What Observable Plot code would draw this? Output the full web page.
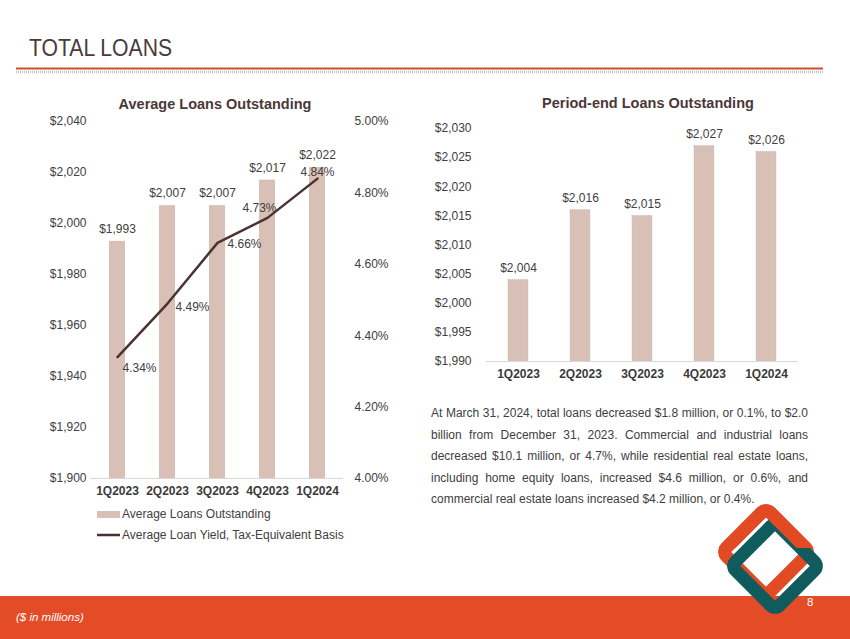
<!DOCTYPE html>
<html><head><meta charset="utf-8">
<script src="https://cdn.jsdelivr.net/npm/d3@7"></script>
<script src="https://cdn.jsdelivr.net/npm/@observablehq/plot@0.6"></script>
<style>
body{margin:0;background:#fff;}
#slide{position:relative;width:850px;height:639px;overflow:hidden;font-family:"Liberation Sans",Arial,sans-serif;color:#404040;background:#fff;}
.abs{position:absolute;}
.ctitle{font-weight:bold;font-size:14.5px;color:#4a3838;white-space:nowrap;line-height:18px;}
#para{left:431px;top:403px;width:377px;font-size:12px;line-height:21.5px;color:#404040;}
#para div{text-align:justify;text-align-last:justify;white-space:nowrap;}
#para div.last{text-align-last:left;}
.legend{font-size:12px;line-height:14px;color:#404040;white-space:nowrap;}
</style></head><body>
<div id="slide">
  <svg class="abs" style="left:0;top:0" width="850" height="639" id="deco">
    <rect x="0" y="596" width="850" height="43" fill="#E34C26"/>
    <line x1="16" y1="68.5" x2="823" y2="68.5" stroke="#C9522E" stroke-width="2"/>
    <line x1="16" y1="72" x2="823" y2="72" stroke="#c4c4c4" stroke-width="2.5" stroke-dasharray="1 1"/>
    <defs><clipPath id="topclip"><rect x="700" y="490" width="150" height="58"/></clipPath></defs>
    <g transform="translate(766,552) rotate(45)"><rect x="-31" y="-31" width="62" height="62" rx="6" fill="none" stroke="#E24A23" stroke-width="13"/></g>
    <g transform="translate(775,566) rotate(45)"><rect x="-31" y="-31" width="62" height="62" rx="6" fill="none" stroke="#0F5B5E" stroke-width="13"/></g>
    <g clip-path="url(#topclip)"><g transform="translate(766,552) rotate(45)"><rect x="-31" y="-31" width="62" height="62" rx="6" fill="none" stroke="#E24A23" stroke-width="13"/></g></g>
  </svg>
  <div class="abs" style="left:29px;top:34px;font-size:23px;line-height:28px;color:#4a3a3a;transform:scaleX(0.92);transform-origin:0 0;white-space:nowrap;">TOTAL LOANS</div>
  <div class="abs ctitle" style="left:115px;top:95px;width:200px;text-align:center;">Average Loans Outstanding</div>
  <div class="abs ctitle" style="left:542px;top:94px;width:200px;text-align:center;">Period-end Loans Outstanding</div>
  <div id="left" class="abs" style="left:0;top:90px;"></div>
  <div id="leftLine" class="abs" style="left:0;top:90px;"></div>
  <div id="right" class="abs" style="left:420px;top:100px;"></div>
  <svg class="abs" style="left:90px;top:505px" width="40" height="40">
    <rect x="7" y="6" width="23" height="7" fill="#D9C0B7"/>
    <line x1="7" y1="30" x2="30" y2="30" stroke="#4B3232" stroke-width="2.5"/>
  </svg>
  <div class="abs legend" style="left:122px;top:507px;">Average Loans Outstanding</div>
  <div class="abs legend" style="left:122px;top:528px;">Average Loan Yield, Tax-Equivalent Basis</div>
  <div id="para" class="abs">
    <div>At March 31, 2024, total loans decreased $1.8 million, or 0.1%, to $2.0</div>
    <div>billion from December 31, 2023. Commercial and industrial loans</div>
    <div>decreased $10.1 million, or 4.7%, while residential real estate loans,</div>
    <div>including home equity loans, increased $4.6 million, or 0.6%, and</div>
    <div class="last">commercial real estate loans increased $4.2 million, or 0.4%.</div>
  </div>
  <div class="abs" style="left:16px;top:610px;font-size:11.5px;line-height:14px;font-style:italic;color:#fff;">($ in millions)</div>
  <div class="abs" style="left:807px;top:595px;font-size:11.5px;line-height:14px;color:#fff;">8</div>
</div>
<script>
const quarters = ["1Q2023", "2Q2023", "3Q2023", "4Q2023", "1Q2024"];
const avgLoans = [1993, 2007, 2007, 2017, 2022];
const avgYield = [4.34, 4.49, 4.66, 4.73, 4.84];
const periodEndLoans = [2004, 2016, 2015, 2027, 2026];
const avgLoanTicks = [1900, 1920, 1940, 1960, 1980, 2000, 2020, 2040];
const yieldTicks = [4.0, 4.2, 4.4, 4.6, 4.8, 5.0];
const periodTicks = [1990, 1995, 2000, 2005, 2010, 2015, 2020, 2025, 2030];

const barColor = "#D9C0B7";
const lineColor = "#4B3232";
const textColor = "#404040";
const money = d => "$" + d3.format(",")(d);

const avgData = quarters.map((q, i) => ({q, v: avgLoans[i]}));
const yieldData = quarters.map((q, i) => ({q, v: avgYield[i]}));
const periodData = quarters.map((q, i) => ({q, v: periodEndLoans[i]}));

const style = {fontFamily: "'Liberation Sans', Arial, sans-serif", fontSize: "12px", color: textColor, background: "transparent", overflow: "visible"};

// Left chart: bars + left axis
document.getElementById("left").append(Plot.plot({
  width: 400, height: 430, marginLeft: 90, marginRight: 57, marginTop: 31, marginBottom: 42,
  style,
  x: {type: "band", domain: quarters, paddingInner: 0.68, paddingOuter: 0.34, label: null},
  y: {domain: [1900, 2040], label: null},
  marks: [
    Plot.barY(avgData, {x: "q", y: "v", fill: barColor, clip: true}),
    Plot.ruleY([1900], {stroke: "#d9d9d9", strokeWidth: 1}),
    Plot.text(avgData, {x: "q", y: "v", text: d => money(d.v), dy: -12, fill: textColor, fontSize: 12}),
    Plot.axisX({tickSize: 0, tickPadding: 8, fontWeight: "bold", fontSize: 12, fill: "#3a3a3a", label: null}),
    Plot.axisY({ticks: avgLoanTicks, tickFormat: money, tickSize: 0, tickPadding: 4, fontSize: 12, label: null})
  ]
}));

// Left chart overlay: yield line + right axis
const yieldLabelPlacement = [
  {dx: 5, dy: 11, textAnchor: "start"},
  {dx: 8, dy: 4, textAnchor: "start"},
  {dx: 10, dy: 1, textAnchor: "start"},
  {dx: -8, dy: -10, textAnchor: "middle"},
  {dx: 0, dy: -6, textAnchor: "middle"}
];
document.getElementById("leftLine").append(Plot.plot({
  width: 400, height: 430, marginLeft: 90, marginRight: 57, marginTop: 31, marginBottom: 42,
  style,
  x: {type: "point", domain: quarters, padding: 0.5, axis: null},
  y: {domain: [4, 5], label: null},
  marks: [
    Plot.line(yieldData, {x: "q", y: "v", stroke: lineColor, strokeWidth: 2.5}),
    ...yieldLabelPlacement.map((p, i) => Plot.text(yieldData.filter((d, j) => j === i), {
      x: "q", y: "v", text: d => d.v.toFixed(2) + "%", dx: p.dx, dy: p.dy, textAnchor: p.textAnchor, fill: textColor, fontSize: 12
    })),
    Plot.axisY({anchor: "right", ticks: yieldTicks, tickFormat: d => d.toFixed(2) + "%", tickSize: 0, tickPadding: 11, fontSize: 12, label: null})
  ]
}));

// Right chart
document.getElementById("right").append(Plot.plot({
  width: 400, height: 300, marginLeft: 66, marginRight: 22, marginTop: 28, marginBottom: 39,
  style,
  x: {type: "band", domain: quarters, paddingInner: 0.68, paddingOuter: 0.34, label: null},
  y: {domain: [1990, 2030], label: null},
  marks: [
    Plot.barY(periodData, {x: "q", y: "v", fill: barColor, stroke: "#bdbdbd", strokeOpacity: 0.7, strokeDasharray: "1 1", clip: true}),
    Plot.ruleY([1990], {stroke: "#d9d9d9", strokeWidth: 1}),
    Plot.text(periodData, {x: "q", y: "v", text: d => money(d.v), dy: -12, fill: textColor, fontSize: 12}),
    Plot.axisX({tickSize: 0, tickPadding: 8, fontWeight: "bold", fontSize: 12, fill: "#3a3a3a", label: null}),
    Plot.axisY({ticks: periodTicks, tickFormat: money, tickSize: 0, tickPadding: 15, fontSize: 12, label: null})
  ]
}));
</script>
</body></html>
